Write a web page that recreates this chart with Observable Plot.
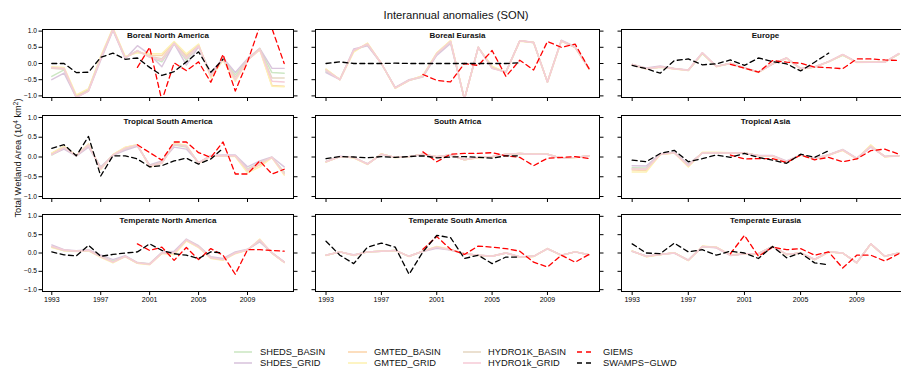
<!DOCTYPE html>
<html><head><meta charset="utf-8">
<script src="https://cdn.jsdelivr.net/npm/d3@7"></script>
<script src="https://cdn.jsdelivr.net/npm/@observablehq/plot@0.6"></script>
<style>
html,body{margin:0;padding:0;background:#fff;overflow:hidden;}
#root{position:relative;width:901px;height:368px;font-family:"Liberation Sans",Arial,Helvetica,sans-serif;}
#root svg{position:absolute;}
</style></head><body><div id="root"></div>
<script>
// ---------------- DATA ----------------
const years = [1993,1994,1995,1996,1997,1998,1999,2000,2001,2002,2003,2004,2005,2006,2007,2008,2009,2010,2011,2012];
const xTicks = [1993,1997,2001,2005,2009];
const yTicks = [-1,-0.5,0,0.5,1];
const seriesNames = ["SHEDS_BASIN","SHDES_GRID","GMTED_BASIN","GMTED_GRID","HYDRO1K_BASIN","HYDRO1k_GRID","GIEMS","SWAMPS\u2212GLWD"];
const panelTitles = ["Boreal North America","Boreal Eurasia","Europe","Tropical South America","South Africa","Tropical Asia","Temperate North America","Temperate South America","Temperate Eurasia"];
const n = null;

// model order: SHEDS_BASIN, SHDES_GRID, GMTED_BASIN, GMTED_GRID, HYDRO1K_BASIN, HYDRO1k_GRID
const bnaModels = [
  [-0.40,-0.20,-1.02,-0.80,0.15,1.05,0.18,0.40,0.20,0.05,0.60,0.10,0.55,-0.35,0.15,-0.35,0.12,0.45,-0.28,-0.30],
  [-0.50,-0.30,-1.05,-0.85,0.10,1.02,0.15,0.55,0.28,-0.10,0.62,-0.05,0.52,-0.30,0.18,-0.28,0.15,0.47,-0.15,-0.15],
  [-0.12,-0.15,-1.00,-0.80,0.20,1.08,0.20,0.35,0.25,0.25,0.65,0.25,0.58,-0.40,0.12,-0.50,0.10,0.45,-0.68,-0.70],
  [-0.10,-0.12,-0.97,-0.78,0.22,1.10,0.22,0.33,0.30,0.30,0.68,0.30,0.60,-0.45,0.10,-0.55,0.10,0.42,-0.70,-0.72],
  [-0.15,-0.18,-1.03,-0.82,0.17,1.06,0.18,0.38,0.22,0.15,0.63,0.20,0.55,-0.38,0.15,-0.42,0.12,0.46,-0.45,-0.45],
  [-0.13,-0.15,-1.05,-0.85,0.15,1.05,0.17,0.40,0.20,0.10,0.62,0.15,0.55,-0.38,0.14,-0.50,0.10,0.43,-0.55,-0.57]
];
const bnaGIEMS  = [n,n,n,n,n,n,n,-0.12,0.50,-1.15,0.02,-0.22,0.05,-0.58,0.28,-0.85,0.05,1.15,1.08,0.00];
const bnaSWAMPS = [0.00,0.00,-0.28,-0.27,0.19,0.32,0.13,0.17,-0.12,-0.37,-0.25,0.05,0.36,-0.27,0.13,n,n,n,n,n];

const beModels = [
  [-0.25,-0.48,0.40,0.58,0.00,-0.75,-0.52,-0.42,0.28,0.66,-1.10,0.50,-0.12,-0.27,0.70,0.64,-0.57,0.70,0.50,-0.16],
  [-0.28,-0.50,0.45,0.55,0.00,-0.74,-0.50,-0.40,0.25,0.62,-1.10,0.50,-0.15,-0.25,0.70,0.66,-0.57,0.72,0.52,-0.15],
  [-0.18,-0.50,0.38,0.62,0.00,-0.76,-0.52,-0.38,0.32,0.70,-1.10,0.50,-0.10,-0.27,0.70,0.65,-0.57,0.70,0.50,-0.16],
  [-0.17,-0.50,0.35,0.63,0.00,-0.77,-0.53,-0.37,0.33,0.71,-1.10,0.49,-0.08,-0.28,0.69,0.65,-0.57,0.69,0.49,-0.17],
  [-0.20,-0.50,0.40,0.60,0.00,-0.75,-0.52,-0.40,0.30,0.68,-1.10,0.50,-0.13,-0.27,0.70,0.65,-0.57,0.70,0.50,-0.16],
  [-0.21,-0.50,0.41,0.60,0.00,-0.75,-0.52,-0.40,0.30,0.68,-1.10,0.50,-0.15,-0.27,0.70,0.65,-0.57,0.70,0.50,-0.16]
];
const beGIEMS  = [n,n,n,n,n,n,n,-0.34,-0.52,-0.57,0.00,-0.06,0.40,-0.40,0.10,-0.20,0.68,0.50,0.60,-0.16];
const beSWAMPS = [0.00,0.05,0.00,0.00,0.00,0.01,0.00,0.00,0.00,0.00,0.00,0.00,0.00,0.00,0.02,n,n,n,n,n];

const euModels = [
  [-0.03,-0.16,-0.12,-0.15,-0.22,0.30,-0.09,0.00,-0.14,-0.26,-0.01,0.16,-0.16,-0.11,0.06,0.25,0.04,0.04,0.05,0.28],
  [-0.03,-0.14,-0.08,-0.15,-0.20,0.33,-0.08,0.00,-0.13,-0.27,-0.02,0.17,-0.15,-0.10,0.06,0.27,0.04,0.05,0.04,0.30],
  [-0.03,-0.16,-0.11,-0.16,-0.21,0.32,-0.09,0.01,-0.14,-0.27,-0.01,0.17,-0.16,-0.11,0.06,0.27,0.04,0.04,0.04,0.30],
  [-0.04,-0.17,-0.12,-0.17,-0.22,0.31,-0.10,0.00,-0.15,-0.28,-0.01,0.16,-0.17,-0.12,0.05,0.26,0.03,0.04,0.04,0.29],
  [-0.03,-0.16,-0.11,-0.16,-0.21,0.32,-0.09,0.00,-0.14,-0.27,-0.01,0.17,-0.16,-0.11,0.06,0.27,0.04,0.04,0.04,0.30],
  [-0.03,-0.16,-0.11,-0.16,-0.21,0.33,-0.09,0.00,-0.14,-0.27,-0.01,0.17,-0.16,-0.11,0.06,0.28,0.04,0.04,0.04,0.31]
];
const euGIEMS  = [n,n,n,n,n,n,n,-0.03,-0.14,-0.27,0.09,0.04,0.01,-0.11,-0.13,-0.16,0.14,0.14,0.11,0.09];
const euSWAMPS = [-0.06,-0.16,-0.30,0.09,0.14,-0.04,-0.01,0.11,-0.06,0.17,0.06,-0.01,-0.23,0.04,0.32,n,n,n,n,n];

const tsaModels = [
  [0.05,0.22,0.03,0.28,-0.28,0.05,0.20,0.29,-0.22,-0.15,0.30,0.25,-0.15,0.03,0.03,0.03,-0.30,-0.15,-0.01,-0.38],
  [0.07,0.20,0.02,0.25,-0.25,0.04,0.17,0.27,-0.20,-0.10,0.25,0.20,-0.14,0.04,0.05,0.05,-0.25,-0.10,0.00,-0.25],
  [0.10,0.27,0.04,0.33,-0.30,0.06,0.24,0.31,-0.24,-0.16,0.34,0.29,-0.16,0.03,0.02,0.02,-0.36,-0.20,-0.01,-0.43],
  [0.10,0.27,0.04,0.33,-0.32,0.06,0.25,0.31,-0.25,-0.15,0.35,0.30,-0.16,0.02,0.02,0.01,-0.40,-0.25,-0.02,-0.46],
  [0.07,0.24,0.03,0.30,-0.28,0.05,0.21,0.30,-0.22,-0.14,0.32,0.27,-0.15,0.03,0.03,0.03,-0.32,-0.14,-0.01,-0.40],
  [0.06,0.24,0.03,0.30,-0.30,0.05,0.22,0.30,-0.23,-0.15,0.32,0.28,-0.15,0.03,0.03,0.03,-0.33,-0.16,-0.01,-0.42]
];
const tsaGIEMS  = [n,n,n,n,n,n,n,0.31,0.11,-0.08,0.38,0.38,0.11,-0.01,0.38,-0.43,-0.43,-0.10,-0.43,-0.31];
const tsaSWAMPS = [0.22,0.31,0.03,0.52,-0.48,0.03,0.03,-0.05,-0.25,-0.22,-0.10,-0.03,-0.18,-0.05,0.22,n,n,n,n,n];

const safModels = [
  [-0.12,0.01,-0.01,-0.18,0.07,-0.01,0.01,0.07,0.01,0.05,-0.07,-0.01,0.01,0.07,0.09,0.07,0.07,-0.03,-0.01,0.03],
  [-0.11,0.02,-0.01,-0.17,0.07,-0.01,0.01,0.06,0.01,0.05,-0.06,-0.01,0.01,0.07,0.08,0.07,0.07,-0.03,-0.01,0.03],
  [-0.12,0.01,-0.02,-0.18,0.08,-0.01,0.01,0.07,0.01,0.05,-0.07,-0.02,0.01,0.07,0.09,0.07,0.07,-0.03,-0.01,0.03],
  [-0.13,0.01,-0.02,-0.19,0.08,-0.02,0.01,0.07,0.00,0.05,-0.07,-0.02,0.00,0.07,0.09,0.07,0.07,-0.03,-0.02,0.03],
  [-0.12,0.01,-0.01,-0.18,0.07,-0.01,0.01,0.07,0.01,0.05,-0.07,-0.01,0.01,0.07,0.09,0.07,0.07,-0.03,-0.01,0.03],
  [-0.12,0.01,-0.01,-0.18,0.07,-0.01,0.01,0.07,0.01,0.05,-0.07,-0.01,0.01,0.07,0.09,0.07,0.07,-0.03,-0.01,0.03]
];
const safGIEMS  = [n,n,n,n,n,n,n,0.13,-0.12,0.07,0.09,0.09,0.11,0.03,-0.01,-0.22,-0.03,-0.01,0.01,-0.04];
const safSWAMPS = [-0.04,0.01,0.00,-0.02,0.01,-0.01,0.01,0.03,-0.02,0.00,0.01,-0.01,-0.03,0.03,0.03,n,n,n,n,n];

const taModels = [
  [-0.27,-0.28,0.07,0.11,-0.20,0.10,0.10,0.10,0.10,0.03,0.03,-0.12,0.05,-0.04,0.05,0.18,-0.04,0.27,0.01,0.03],
  [-0.22,-0.23,0.08,0.12,-0.18,0.10,0.10,0.10,0.10,0.04,0.04,-0.10,0.05,-0.03,0.06,0.19,-0.03,0.25,0.02,0.03],
  [-0.33,-0.34,0.06,0.10,-0.23,0.11,0.11,0.11,0.10,0.03,0.03,-0.13,0.05,-0.05,0.05,0.17,-0.05,0.29,0.01,0.03],
  [-0.38,-0.38,0.06,0.10,-0.25,0.12,0.12,0.11,0.10,0.03,0.02,-0.14,0.05,-0.05,0.05,0.17,-0.05,0.31,0.00,0.03],
  [-0.30,-0.30,0.07,0.11,-0.21,0.10,0.10,0.10,0.10,0.03,0.03,-0.12,0.05,-0.04,0.05,0.18,-0.04,0.27,0.01,0.03],
  [-0.30,-0.31,0.07,0.11,-0.22,0.10,0.10,0.10,0.10,0.03,0.03,-0.12,0.05,-0.04,0.05,0.18,-0.04,0.27,0.01,0.03]
];
const taGIEMS  = [n,n,n,n,n,n,n,0.05,-0.05,-0.04,-0.04,-0.14,0.05,-0.07,-0.01,-0.12,-0.05,0.16,0.20,0.07];
const taSWAMPS = [-0.08,-0.12,0.09,0.17,-0.12,-0.04,0.05,-0.01,0.09,-0.01,-0.08,-0.16,0.07,-0.01,0.16,n,n,n,n,n];

const tnaModels = [
  [0.18,0.08,0.05,0.08,-0.08,-0.22,-0.09,-0.27,-0.30,0.00,0.02,0.35,0.18,-0.12,-0.17,0.00,0.09,0.32,0.00,-0.25],
  [0.22,0.09,0.06,0.09,-0.05,-0.18,-0.07,-0.26,-0.29,0.02,0.05,0.38,0.20,-0.10,-0.15,0.03,0.10,0.30,0.01,-0.24],
  [0.16,0.07,0.05,0.07,-0.10,-0.25,-0.10,-0.28,-0.31,-0.01,-0.02,0.34,0.16,-0.14,-0.19,-0.01,0.08,0.36,0.00,-0.26],
  [0.15,0.06,0.04,0.06,-0.12,-0.27,-0.10,-0.28,-0.32,-0.01,-0.05,0.33,0.15,-0.15,-0.20,-0.02,0.08,0.38,-0.01,-0.26],
  [0.17,0.07,0.05,0.07,-0.09,-0.24,-0.09,-0.27,-0.30,0.00,0.00,0.36,0.18,-0.13,-0.18,0.00,0.09,0.34,0.00,-0.25],
  [0.18,0.08,0.05,0.07,-0.10,-0.25,-0.09,-0.27,-0.31,0.00,0.00,0.36,0.17,-0.13,-0.18,0.00,0.09,0.36,0.00,-0.25]
];
const tnaGIEMS  = [n,n,n,n,n,n,n,0.25,0.07,0.16,-0.20,0.15,-0.18,0.12,-0.06,-0.58,0.09,0.09,0.07,0.05];
const tnaSWAMPS = [0.03,-0.05,-0.08,0.21,-0.09,-0.04,0.00,0.03,0.25,0.07,-0.02,-0.06,-0.15,0.03,0.00,n,n,n,n,n];

const tsmModels = [
  [-0.06,0.03,-0.06,0.03,0.05,0.07,-0.09,0.05,0.15,0.09,-0.02,-0.06,-0.09,0.00,-0.11,-0.09,0.12,-0.06,0.03,-0.05],
  [-0.06,0.03,-0.05,0.03,0.05,0.07,-0.09,0.04,0.13,0.08,-0.02,-0.06,-0.08,0.01,-0.10,-0.09,0.11,-0.06,0.03,-0.05],
  [-0.06,0.03,-0.06,0.03,0.05,0.07,-0.09,0.05,0.17,0.09,-0.02,-0.06,-0.09,0.00,-0.11,-0.09,0.12,-0.06,0.03,-0.05],
  [-0.07,0.03,-0.07,0.03,0.05,0.07,-0.10,0.05,0.18,0.10,-0.02,-0.07,-0.09,0.00,-0.11,-0.10,0.12,-0.07,0.03,-0.05],
  [-0.06,0.03,-0.06,0.03,0.05,0.07,-0.09,0.05,0.16,0.09,-0.02,-0.06,-0.09,0.00,-0.11,-0.09,0.12,-0.06,0.03,-0.05],
  [-0.06,0.03,-0.06,0.03,0.05,0.07,-0.09,0.05,0.16,0.09,-0.02,-0.06,-0.09,0.00,-0.11,-0.09,0.12,-0.06,0.03,-0.05]
];
const tsmGIEMS  = [n,n,n,n,n,n,n,0.10,0.45,0.10,-0.04,0.19,0.16,0.12,0.05,-0.25,-0.38,-0.06,-0.25,-0.04];
const tsmSWAMPS = [0.32,-0.06,-0.29,0.16,0.27,0.16,-0.58,0.03,0.48,0.42,-0.15,-0.06,-0.29,-0.11,-0.11,n,n,n,n,n];

const teModels = [
  [0.05,-0.09,-0.04,0.00,-0.20,0.18,0.15,-0.06,-0.02,-0.02,0.18,-0.04,0.00,-0.18,0.03,0.00,-0.27,0.25,-0.09,0.00],
  [0.04,-0.08,-0.03,0.00,-0.19,0.17,0.14,-0.07,-0.03,-0.02,0.17,-0.04,0.00,-0.17,0.03,0.00,-0.26,0.25,-0.09,0.00],
  [0.05,-0.10,-0.04,0.01,-0.20,0.18,0.16,-0.06,-0.02,-0.02,0.18,-0.04,0.00,-0.18,0.03,0.00,-0.27,0.25,-0.09,0.00],
  [0.06,-0.10,-0.05,0.01,-0.21,0.19,0.16,-0.05,-0.02,-0.03,0.18,-0.05,0.00,-0.19,0.02,0.00,-0.27,0.24,-0.10,0.00],
  [0.05,-0.09,-0.04,0.00,-0.20,0.18,0.15,-0.06,-0.02,-0.02,0.18,-0.04,0.00,-0.18,0.03,0.00,-0.27,0.25,-0.09,0.00],
  [0.05,-0.09,-0.04,0.00,-0.20,0.18,0.15,-0.06,-0.02,-0.02,0.18,-0.04,0.00,-0.18,0.03,0.00,-0.27,0.25,-0.09,0.00]
];
const teGIEMS  = [n,n,n,n,n,n,n,-0.02,0.48,-0.09,0.16,0.09,0.12,-0.06,0.03,-0.41,-0.06,-0.06,-0.22,-0.02];
const teSWAMPS = [0.25,0.00,-0.02,0.27,0.03,0.09,-0.06,0.05,0.00,-0.15,0.18,-0.13,0.00,-0.27,-0.32,n,n,n,n,n];

// ---------------- STYLE / LAYOUT ----------------
const modelColors = ["#cde7c4","#dac6dd","#fbd6ae","#fdf1b4","#e6d9c4","#f6cdd8"];
const giemsColor = "#ff0000", swampsColor = "#000000";
const FONT = '"Liberation Sans", Arial, Helvetica, sans-serif';
const colBox = [[42,293],[315,599],[621,909]];
const rowBox = [[29,97],[115,198],[214,291]];

const panels = [
  [bnaModels,bnaGIEMS,bnaSWAMPS],[beModels,beGIEMS,beSWAMPS],[euModels,euGIEMS,euSWAMPS],
  [tsaModels,tsaGIEMS,tsaSWAMPS],[safModels,safGIEMS,safSWAMPS],[taModels,taGIEMS,taSWAMPS],
  [tnaModels,tnaGIEMS,tnaSWAMPS],[tsmModels,tsmGIEMS,tsmSWAMPS],[teModels,teGIEMS,teSWAMPS]
];

const root = document.getElementById("root");
const yFmt = d => d.toFixed(1).replace("-", "\u2212");
const toRows = vals => years.map((yr, j) => ({year: yr, v: vals[j]}));

panels.forEach(([models, giems, swamps], k) => {
  const r = Math.floor(k / 3), c = k % 3;
  const [x0, x1] = colBox[c], [y0, y1] = rowBox[r];
  const ML = 34, MR = 10, MT = 4, MB = 18;
  const W = x1 - x0 + ML + MR, H = y1 - y0 + MT + MB;
  const marks = [];
  marks.push(Plot.axisX({ticks: xTicks, tickSize: 4, tickPadding: 2, fontSize: 7,
    tickFormat: r === 2 ? (d => String(d)) : (() => ""), label: null}));
  marks.push(Plot.axisY({anchor: "left", ticks: yTicks, tickSize: 3.5, tickPadding: 2, fontSize: 6.6,
    tickFormat: c === 0 ? yFmt : (() => ""), label: null}));
  marks.push(Plot.axisY({anchor: "right", ticks: yTicks, tickSize: 3.5, tickFormat: () => "", label: null}));
  models.forEach((vals, i) => {
    marks.push(Plot.line(toRows(vals), {x: "year", y: "v", stroke: modelColors[i], strokeWidth: 1.45, clip: true}));
  });
  marks.push(Plot.line(toRows(giems), {x: "year", y: "v", stroke: giemsColor, strokeWidth: 1.3, strokeDasharray: "5,3.5", clip: true}));
  marks.push(Plot.line(toRows(swamps), {x: "year", y: "v", stroke: swampsColor, strokeWidth: 1.3, strokeDasharray: "5,3.5", clip: true}));
  marks.push(Plot.frame({stroke: "#000", strokeWidth: 1}));
  marks.push(Plot.text([panelTitles[k]], {frameAnchor: "top", dy: 6, lineAnchor: "middle", fontWeight: "bold", fontSize: 8, fill: "#111"}));
  const svg = Plot.plot({
    width: W, height: H, marginLeft: ML, marginRight: MR, marginTop: MT, marginBottom: MB,
    x: {domain: [1992.24, 2012.76]},
    y: {domain: [-1.05, 1.05]},
    style: {background: "transparent", fontFamily: FONT, overflow: "visible", maxWidth: "none"},
    marks
  });
  svg.style.left = (x0 - ML) + "px";
  svg.style.top = (y0 - MT) + "px";
  root.appendChild(svg);
});

// ---------------- TITLE, Y LABEL, LEGEND ----------------
const ov = d3.select(root).append("svg")
  .attr("width", 901).attr("height", 368)
  .style("left", "0px").style("top", "0px").style("pointer-events", "none")
  .style("font-family", FONT);

ov.append("text").attr("x", 456).attr("y", 15).attr("text-anchor", "middle")
  .attr("dominant-baseline", "central").attr("font-size", 11.2).attr("fill", "#111")
  .text("Interannual anomalies (SON)");

const yl = ov.append("text").attr("transform", "translate(21,158) rotate(-90)")
  .attr("text-anchor", "middle").attr("font-size", 9.3).attr("fill", "#111");
yl.append("tspan").text("Total Wetland Area (10");
yl.append("tspan").attr("dy", -3.5).attr("font-size", 6.5).text("4");
yl.append("tspan").attr("dy", 3.5).text(" km");
yl.append("tspan").attr("dy", -3.5).attr("font-size", 6.5).text("2");
yl.append("tspan").attr("dy", 3.5).text(")");

const legX = [[234,252,260],[348,367,374],[463,481,488],[577,591,603]];
const legY = [352,363];
const legColors = [modelColors[0],modelColors[1],modelColors[2],modelColors[3],modelColors[4],modelColors[5],giemsColor,swampsColor];
seriesNames.forEach((name, i) => {
  const col = Math.floor(i / 2), row = i % 2;
  const [a, b, t] = legX[col], y = legY[row];
  const dashed = col === 3;
  ov.append("line").attr("x1", a).attr("x2", b).attr("y1", y).attr("y2", y)
    .attr("stroke", legColors[i]).attr("stroke-width", dashed ? 1.3 : 1.6)
    .attr("stroke-dasharray", dashed ? "5,4" : null);
  ov.append("text").attr("x", t).attr("y", y).attr("dominant-baseline", "central")
    .attr("font-size", 9.3).attr("fill", "#111").text(name);
});
</script>
</body></html>
